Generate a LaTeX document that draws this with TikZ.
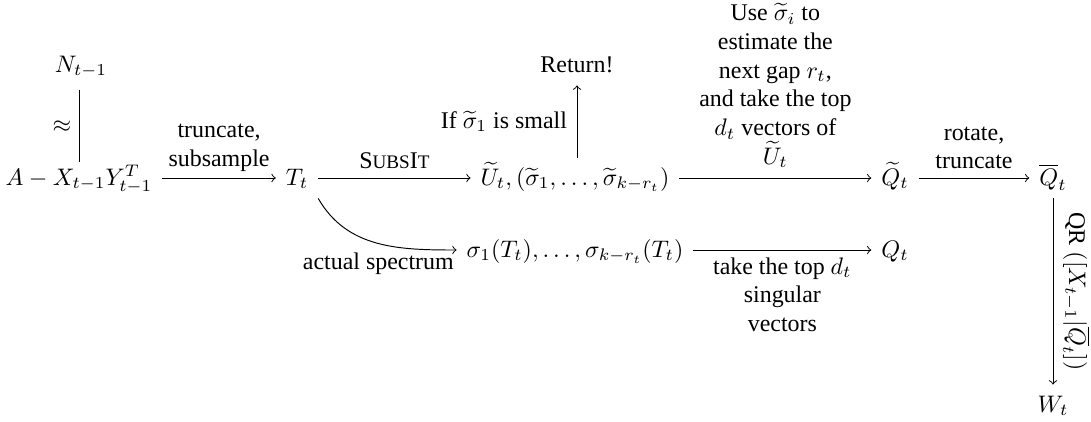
\documentclass[tikz,border=0pt]{standalone}
\usepackage{fontspec}
\setmainfont{Liberation Serif}
\usepackage{amsmath}
\begin{document}
\begin{tikzpicture}[x=0.418pt,y=-0.418pt,
  obj/.style={inner sep=4pt, text height=1.6ex, text depth=0.3ex},
  lab/.style={align=center, inner sep=2pt},
  cdarrow/.style={->, line width=0.4pt}]
\useasboundingbox (0,0) rectangle (1091,421);
% objects
\node[obj] (A)  at (79,178)  {$A - X_{t-1}Y_{t-1}^{T}$};
\node[obj] (N)  at (81,65)   {$N_{t-1}$};
\node[obj] (T)  at (297,178) {$T_t$};
\node[obj] (U)  at (575,178) {$\widetilde{U}_t, (\widetilde{\sigma}_1, \ldots, \widetilde{\sigma}_{k-r_t})$};
\node[obj] (R)  at (577,65)  {Return!};
\node[obj] (Qt) at (895,178) {$\widetilde{Q}_t$};
\node[obj] (Qb) at (1053,178) {$\overline{Q}_t$};
\node[obj] (W)  at (1053,405) {$W_t$};
\node[obj] (S)  at (575,250) {$\sigma_1(T_t), \ldots, \sigma_{k-r_t}(T_t)$};
\node[obj] (Q)  at (895,250) {$Q_t$};
% connectors
\draw ([yshift=-2pt]N.south -| A.north) -- node[lab, left, inner sep=3pt] {$\approx$} ([yshift=-2pt]A.north);
\draw[cdarrow] (A) -- node[lab, above, inner sep=2.5pt] {truncate,\\subsample} (T);
\draw[cdarrow] (T) -- node[lab, above, inner sep=3.5pt] {S{\footnotesize UBS}I{\footnotesize T}} (U);
\draw[cdarrow] (U.north -| R.south) -- node[lab, left, inner sep=4pt] {If $\widetilde{\sigma}_1$ is small} (R.south);
\draw[cdarrow] (U) -- node[lab, above, yshift=2pt] {Use $\widetilde{\sigma}_i$ to\\estimate the\\next gap $r_t$,\\and take the top\\$d_t$ vectors of\\$\widetilde{U}_t$} (Qt);
\draw[cdarrow] (Qt) -- node[lab, above, inner sep=3.5pt] {rotate,\\truncate} (Qb);
\draw[cdarrow] (Qb) -- node[lab, anchor=south, rotate=-90, inner sep=4pt] {QR $([X_{t-1}|\overline{Q}_t])$} (W);
\draw[cdarrow] (T.south east) to[out=-60, in=180] node[lab, at end, anchor=north east, inner sep=1pt] {actual spectrum} (S.west);
\draw[cdarrow] (S) -- node[lab, below, inner sep=3pt] {take the top $d_t$\\singular\\vectors} (Q);
\end{tikzpicture}
\end{document}
